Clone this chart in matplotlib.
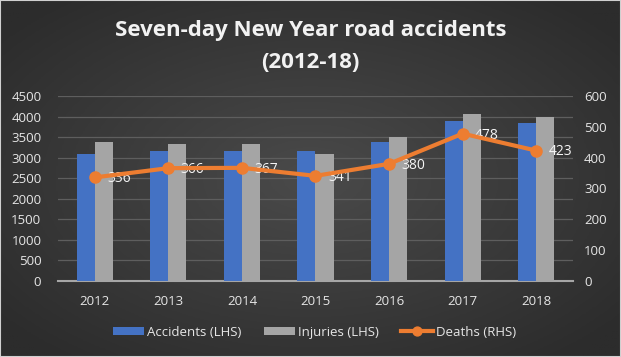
import matplotlib.pyplot as plt
import numpy as np
from matplotlib.colors import LinearSegmentedColormap
from matplotlib.patches import Rectangle

years = ["2012", "2013", "2014", "2015", "2016", "2017", "2018"]
accidents = [3090, 3170, 3170, 3170, 3390, 3890, 3840]
injuries = [3370, 3330, 3340, 3100, 3500, 4060, 3990]
deaths = [336, 366, 367, 341, 380, 478, 423]

txt = "#e6e6e6"
blue = "#4472C4"
grey = "#A5A5A5"
orange = "#ED7D31"

plt.rcParams["font.family"] = ["Open Sans", "DejaVu Sans"]

fig = plt.figure(figsize=(6.21, 3.57), dpi=100)

# dark radial background
bg = fig.add_axes([0, 0, 1, 1], zorder=-5)
yy, xx = np.mgrid[-1:1:200j, -1:1:300j]
r = np.clip(np.sqrt(xx**2 + yy**2) / 1.3, 0, 1)
cmap = LinearSegmentedColormap.from_list("bg", ["#4a4a4a", "#2c2c2c"])
bg.imshow(r, cmap=cmap, vmin=0, vmax=1, aspect="auto", extent=[0, 1, 0, 1])
bg.add_patch(Rectangle((0, 0), 1, 1, fill=False, edgecolor="#d0d0d0", lw=1.5))
bg.axis("off")

ax = fig.add_axes([0.0934, 0.213, 0.8293, 0.518])
ax.patch.set_alpha(0)
x = np.arange(len(years))
w = 0.245
ax.bar(x - w / 2, accidents, w, color=blue, label="Accidents (LHS)", zorder=3)
ax.bar(x + w / 2, injuries, w, color=grey, label="Injuries (LHS)", zorder=3)
ax.set_ylim(0, 4500)
ax.set_yticks(range(0, 4501, 500))
ax.set_xlim(-0.5, len(years) - 0.5)
ax.set_xticks(x)
ax.set_xticklabels(years)
ax.grid(axis="y", color="#5e5e5e", lw=0.9, zorder=0)
for s in ["top", "right", "left"]:
    ax.spines[s].set_visible(False)
ax.spines["bottom"].set_color("#a6a6a6")
ax.spines["bottom"].set_linewidth(1.5)
ax.tick_params(length=0, colors=txt, labelsize=9.5)
ax.tick_params(axis="y", pad=12)
ax.tick_params(axis="x", pad=10)

ax2 = ax.twinx()
ax2.plot(x, deaths, color=orange, lw=3, marker="o", ms=8, label="Deaths (RHS)", zorder=4)
ax2.set_ylim(0, 600)
ax2.set_yticks(range(0, 601, 100))
for s in ax2.spines.values():
    s.set_visible(False)
ax2.tick_params(length=0, colors=txt, labelsize=9.5, pad=8)
for xi, d in zip(x, deaths):
    ax2.annotate(str(d), (xi, d), xytext=(9, -1), textcoords="offset points",
                 ha="left", va="center", color="#f5f5f5", fontsize=10)

fig.text(0.5, 0.915, "Seven-day New Year road accidents", ha="center", va="center",
         color="#f2f2f2", fontsize=16, fontweight="bold")
fig.text(0.5, 0.825, "(2012-18)", ha="center", va="center",
         color="#f2f2f2", fontsize=16, fontweight="bold")

h1, l1 = ax.get_legend_handles_labels()
h2, l2 = ax2.get_legend_handles_labels()
fig.legend(h1 + h2, l1 + l2, loc="center", bbox_to_anchor=(0.506, 0.07), ncol=3,
           frameon=False, fontsize=9.5, labelcolor=txt, handlelength=2.4,
           handleheight=0.6, columnspacing=1.7, handletextpad=0.2, markerscale=0.8)

fig.savefig("out.png", dpi=100)
